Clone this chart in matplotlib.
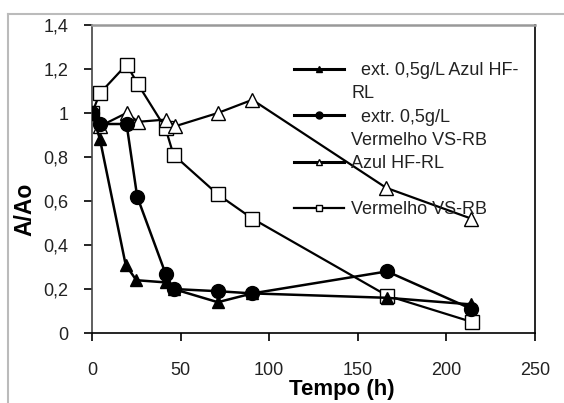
import matplotlib
matplotlib.use("Agg")
import matplotlib.pyplot as plt
from matplotlib.lines import Line2D

plt.rcParams['font.family'] = ['Liberation Sans', 'DejaVu Sans']

# tempo (h) e A/Ao
t_ext_azul = [0, 4.5, 19, 25, 41.5, 46, 71, 90.5, 166.5, 214]
a_ext_azul = [1.0, 0.88, 0.31, 0.24, 0.23, 0.20, 0.14, 0.18, 0.16, 0.13]

t_ext_verm = [0, 4.5, 19.5, 25.5, 41.5, 46, 71, 90.5, 166.5, 214]
a_ext_verm = [1.0, 0.95, 0.95, 0.62, 0.27, 0.20, 0.19, 0.18, 0.28, 0.11]

t_azul = [0, 4.5, 19.5, 26, 41.5, 47, 71, 90.5, 166, 214]
a_azul = [1.0, 0.94, 1.0, 0.96, 0.97, 0.94, 1.0, 1.06, 0.66, 0.52]

t_verm = [0, 4.5, 19.5, 26, 41.5, 46, 71, 90.5, 166.5, 214.5]
a_verm = [1.0, 1.09, 1.22, 1.13, 0.93, 0.81, 0.63, 0.52, 0.17, 0.05]

legend_rows = ["  ext. 0,5g/L Azul HF-", "RL", "  extr. 0,5g/L", "Vermelho VS-RB",
               "Azul HF-RL", "", "Vermelho VS-RB"]

xticks = [0, 50, 100, 150, 200, 250]
yticks = [0, 0.2, 0.4, 0.6, 0.8, 1.0, 1.2, 1.4]
ytick_labels = ["0", "0,2", "0,4", "0,6", "0,8", "1", "1,2", "1,4"]

fig = plt.figure(figsize=(5.64, 4.03), dpi=100)
ax = fig.add_axes([92/564, 70/403, 443/564, 308/403])

# borda cinza externa (estilo Excel)
fig.add_artist(Line2D([8/564, 8/564], [0, 1 - 14/403], transform=fig.transFigure, color='#bbbbbb', lw=1.5))
fig.add_artist(Line2D([8/564, 1], [1 - 14/403, 1 - 14/403], transform=fig.transFigure, color='#bbbbbb', lw=1.5))

ax.plot(t_verm, a_verm, color='black', lw=1.6, marker='s', ms=10, mfc='white', mec='black', mew=1.0, zorder=2)
ax.plot(t_azul, a_azul, color='black', lw=1.6, marker='^', ms=10, mfc='white', mec='black', mew=1.0, zorder=2)
ax.plot(t_ext_azul, a_ext_azul, color='black', lw=1.8, marker='^', ms=8, mfc='black', mec='black', zorder=3)
ax.plot(t_ext_verm, a_ext_verm, color='black', lw=1.8, marker='o', ms=10, mfc='black', mec='black', zorder=3)

ax.set_xlim(0, 250)
ax.set_ylim(0, 1.4)
ax.set_xticks(xticks)
ax.set_yticks(yticks)
ax.set_yticklabels(ytick_labels)
ax.tick_params(axis='x', direction='out', length=6, width=1.2, pad=15, labelsize=13, labelcolor='#222222')
ax.tick_params(axis='y', direction='out', length=6, width=1.2, pad=11, labelsize=13, labelcolor='#222222')

ax.spines['top'].set_color('#999999')
ax.spines['top'].set_linewidth(1.8)
ax.spines['left'].set_color('#444444')
ax.spines['left'].set_linewidth(1.2)
ax.spines['bottom'].set_linewidth(1.2)
ax.spines['right'].set_linewidth(1.2)

ax.set_xlabel("Tempo (h)", fontsize=16, fontweight='bold')
ax.xaxis.set_label_coords(0.565, -0.148)
ax.set_ylabel("A/Ao", fontsize=16.5, fontweight='bold')
ax.yaxis.set_label_coords(-0.125, 0.40)

blank = Line2D([], [], linestyle='none')
handles = [
    Line2D([], [], color='black', lw=2.2, marker='^', ms=5, mfc='black'),
    blank,
    Line2D([], [], color='black', lw=2.2, marker='o', ms=5, mfc='black'),
    blank,
    Line2D([], [], color='black', lw=2.2, marker='^', ms=5, mfc='white', mew=1.0),
    blank,
    Line2D([], [], color='black', lw=1.6, marker='s', ms=4.5, mfc='white', mew=1.0),
]
leg = ax.legend(handles, legend_rows, loc='upper left', bbox_to_anchor=(0.455, 0.879),
                frameon=False, fontsize=13, handlelength=2.8, handletextpad=0.4,
                labelspacing=0.34, borderpad=0, borderaxespad=0)
for txt in leg.get_texts():
    txt.set_color('#222222')

fig.savefig("out.png", dpi=100)
